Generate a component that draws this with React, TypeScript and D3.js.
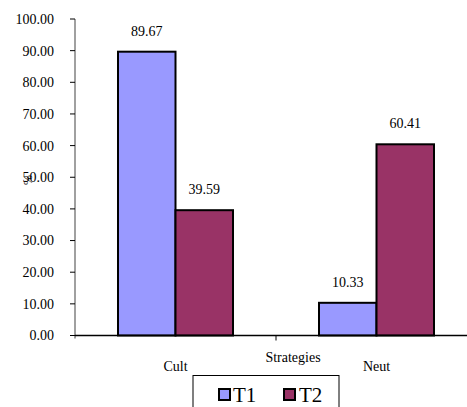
import React from "react";
import * as d3 from "d3";

const categories = ["Cult", "Neut"];
const series = ["T1", "T2"];
const t1Values = [89.67, 10.33];
const t2Values = [39.59, 60.41];
const yTicks = [0, 10, 20, 30, 40, 50, 60, 70, 80, 90, 100];
const colors = ["#9999FF", "#993366"];

const W = 467;
const H = 407;
const left = 75;
const right = 477;
const y0 = 335.5;
const yTop = 19;
const font = "Liberation Serif, Times New Roman, Times, serif";

export default function App() {
  const x = d3.scaleBand<string>().domain(categories).range([left, right]).paddingInner(0).paddingOuter(0);
  const groupW = 115;
  const xs = d3.scaleBand<string>().domain(series).range([0, groupW]);
  const y = d3.scaleLinear().domain([0, 100]).range([y0, yTop]);
  const values = [t1Values, t2Values];
  const ts = { fontFamily: font };

  return (
    <svg width={W} height={H} style={{ position: "absolute", left: 0, top: 0, fontFamily: font }}>
      <rect width={W} height={H} fill="#fff" />
      {/* y axis */}
      <line x1={left} x2={left} y1={y(100)} y2={y0 + 3} stroke="#808080" strokeWidth={1.5} />
      {yTicks.map((t) => (
        <g key={t}>
          <line x1={left - 5} x2={left} y1={y(t)} y2={y(t)} stroke="#000" strokeWidth={1} />
          <text x={54} y={y(t)} dy="0.35em" textAnchor="end" fontSize={14} fill="#000" style={ts}>
            {t.toFixed(2)}
          </text>
        </g>
      ))}
      <text transform={`translate(32,180) rotate(-90)`} textAnchor="middle" fontSize={12} fill="#000" style={ts}>
        %
      </text>
      {/* bars */}
      {categories.map((c, ci) => {
        const gx = (x(c) as number) + x.bandwidth() / 2 - groupW / 2;
        return series.map((s, si) => {
          const v = values[si][ci];
          const bx = gx + (xs(s) as number);
          return (
            <g key={c + s}>
              <rect
                x={bx}
                y={y(v)}
                width={xs.bandwidth()}
                height={y0 - y(v)}
                fill={colors[si]}
                stroke="#000"
                strokeWidth={2}
              />
              <text x={bx + xs.bandwidth() / 2} y={y(v) - 16} textAnchor="middle" fontSize={14} fill="#000" style={ts}>
                {v.toFixed(2)}
              </text>
            </g>
          );
        });
      })}
      {/* x axis */}
      <line x1={left} x2={W} y1={y0} y2={y0} stroke="#000" strokeWidth={1.5} />
      <line x1={left + x.bandwidth()} x2={left + x.bandwidth()} y1={y0} y2={y0 + 5} stroke="#000" strokeWidth={1} />
      {categories.map((c) => (
        <text key={c} x={(x(c) as number) + x.bandwidth() / 2} y={371} textAnchor="middle" fontSize={14} fill="#000" style={ts}>
          {c}
        </text>
      ))}
      <text x={293} y={362} textAnchor="middle" fontSize={14} fill="#000" style={ts}>
        Strategies
      </text>
      {/* legend */}
      <rect x={193} y={375.5} width={146} height={40} fill="#fff" stroke="#000" strokeWidth={1} />
      {series.map((s, i) => (
        <g key={s}>
          <rect x={219 + i * 65} y={389} width={11} height={11} fill={colors[i]} stroke="#000" strokeWidth={2} />
          <text x={233 + i * 66} y={402} fontSize={21} fill="#000" style={ts}>
            {s}
          </text>
        </g>
      ))}
    </svg>
  );
}
